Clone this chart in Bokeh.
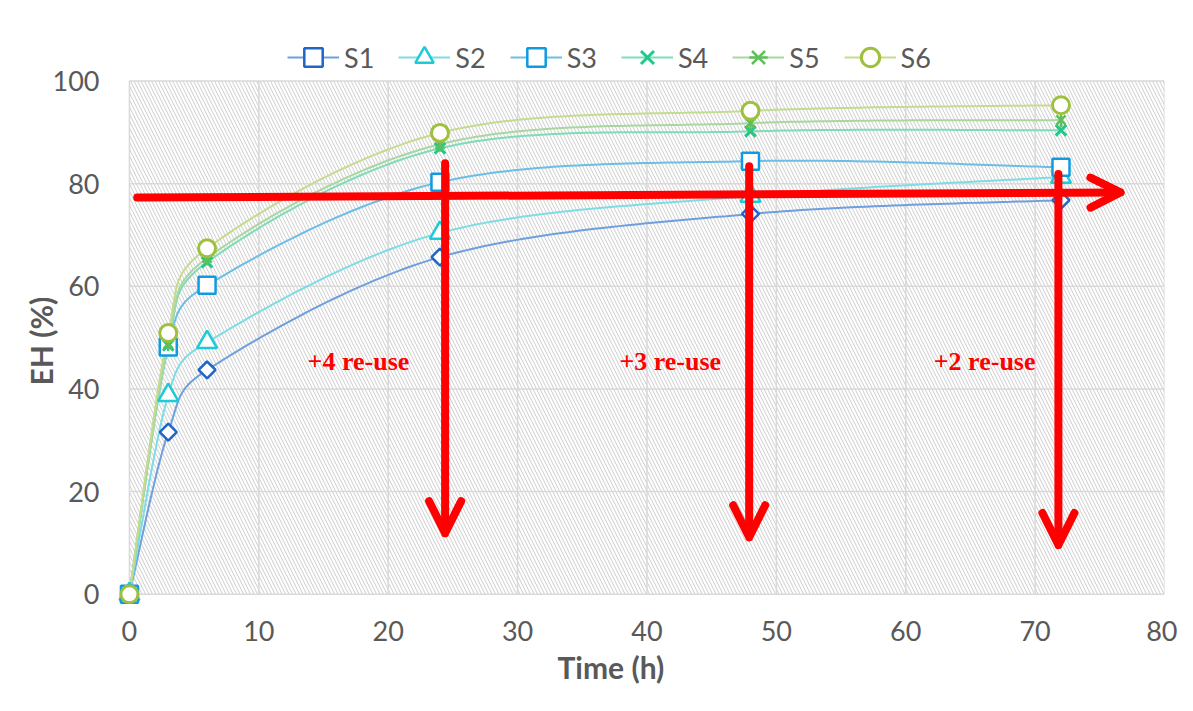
import numpy as np
from bokeh.plotting import figure
from bokeh.models import (Range1d, FixedTicker, Arrow, OpenHead, Legend, LegendItem, Title)
from bokeh.core.properties import value
from bokeh.embed import file_html
from bokeh.resources import INLINE

# ---------------- data ----------------
time_h = [0, 3, 6, 24, 48, 72]
s1 = [0, 31.6, 43.7, 65.7, 74.1, 76.8]
s2 = [0, 38.8, 49.1, 70.4, 77.6, 81.3]
s3 = [0, 48.2, 60.2, 80.3, 84.4, 83.2]
s4 = [0, 48.5, 64.7, 86.9, 90.2, 90.4]
s5 = [0, 48.8, 65.5, 87.7, 91.8, 92.4]
s6 = [0, 50.9, 67.4, 89.9, 94.2, 95.3]
series_names = ["S1", "S2", "S3", "S4", "S5", "S6"]
x_ticks = [0, 10, 20, 30, 40, 50, 60, 70, 80]
y_ticks = [0, 20, 40, 60, 80, 100]

# annotations (arrows and re-use labels)
h_arrow = [0.6, 77.3, 76.6, 78.3]          # x_start, y_start, x_end, y_end
v_arrow_x = [24.4, 47.9, 71.8]
v_arrow_top = [84.0, 83.4, 81.9]
v_arrow_tip = [11.9, 11.1, 9.6]
reuse_labels = ["+4 re-use", "+3 re-use", "+2 re-use"]
reuse_x = [17.7, 41.8, 66.1]
reuse_y = [45.4, 45.4, 45.4]

# ---------------- styling ----------------
marker_colors = ["#1f66c6", "#1ccad8", "#0f9be0", "#20c88a", "#5fbf5a", "#9fc03c"]
line_colors = ["#6f9fdc", "#7ddde6", "#6cbde8", "#7edcb8", "#a8d8a0", "#c5db8e"]
GRAY = "#595959"
FONT = "Lato"

W, H = 1177, 695
LEFT, RIGHT, TOP = 116, 13, 19
XR = (-1, 80)
YR = (-2.0, 112)            # headroom above 100 holds the legend
BOTTOM = 91
kx = (W - LEFT - RIGHT) / (XR[1] - XR[0])
ky = (H - TOP - BOTTOM) / (YR[1] - YR[0])


def excel_smooth(xs, ys, n=40):
    P = np.column_stack([np.asarray(xs, float) * kx, np.asarray(ys, float) * ky])
    N = len(P)
    out = [P[0]]
    t = np.linspace(0, 1, n)[1:]
    for i in range(N - 1):
        p0 = P[i - 1] if i > 0 else P[i]
        p1 = P[i]
        p2 = P[i + 1]
        p3 = P[i + 2] if i + 2 < N else P[i + 1]
        d12 = np.linalg.norm(p2 - p1)
        d02 = np.linalg.norm(p2 - p0)
        d13 = np.linalg.norm(p3 - p1)
        f1 = 1 / 6 if d02 / 6 < d12 / 2 else (d12 / (2 * d02) if d02 > 0 else 0)
        f2 = 1 / 6 if d13 / 6 < d12 / 2 else (d12 / (2 * d13) if d13 > 0 else 0)
        c1 = p1 + f1 * (p2 - p0)
        c2 = p2 - f2 * (p3 - p1)
        B = (((1 - t) ** 3)[:, None] * p1 + (3 * (1 - t) ** 2 * t)[:, None] * c1
             + (3 * (1 - t) * t ** 2)[:, None] * c2 + (t ** 3)[:, None] * p2)
        out.extend(B)
    arr = np.array(out)
    return arr[:, 0] / kx, arr[:, 1] / ky


p = figure(width=W, height=H, output_backend="svg", toolbar_location=None,
           x_range=Range1d(*XR), y_range=Range1d(*YR),
           min_border_left=LEFT, min_border_right=RIGHT,
           min_border_top=TOP, min_border_bottom=BOTTOM)
p.outline_line_color = None
p.grid.visible = False
p.background_fill_color = "white"
p.border_fill_color = "white"

for ax, ticks in ((p.xaxis[0], x_ticks), (p.yaxis[0], y_ticks)):
    ax.ticker = FixedTicker(ticks=ticks)
    ax.axis_line_color = None
    ax.major_tick_line_color = None
    ax.minor_tick_line_color = None
    ax.major_tick_out = 0
    ax.major_tick_in = 0
    ax.major_label_text_font = FONT
    ax.major_label_text_font_size = "27px"
    ax.major_label_text_color = GRAY
p.xaxis.major_label_standoff = 16
p.yaxis.major_label_standoff = 17

# axis titles
p.add_layout(Title(text="EH (%)", align="left", offset=219, standoff=-19,
                   text_font=FONT, text_font_style="bold", text_font_size="30px",
                   text_color=GRAY), "left")
p.add_layout(Title(text="Time (h)", align="left", offset=441, standoff=7,
                   text_font=FONT, text_font_style="bold", text_font_size="30px",
                   text_color=GRAY), "below")

# hatched plot area
p.quad(left=[x_ticks[0]], right=[x_ticks[-1]], bottom=[y_ticks[0]], top=[y_ticks[-1]],
       fill_color=None, line_color=None, hatch_pattern="\\", hatch_color="#cccccc",
       hatch_scale=7, hatch_weight=1)

# gridlines
p.segment(x0=x_ticks, x1=x_ticks, y0=[y_ticks[0]] * len(x_ticks), y1=[y_ticks[-1]] * len(x_ticks),
          line_color="#d9d9d9", line_width=1.5)
p.segment(x0=[x_ticks[0]] * len(y_ticks), x1=[x_ticks[-1]] * len(y_ticks), y0=y_ticks, y1=y_ticks,
          line_color="#d9d9d9", line_width=1.5)

series = [s1, s2, s3, s4, s5, s6]
line_rs = []
for vals, lc in zip(series, line_colors):
    sx, sy = excel_smooth(time_h, vals)
    line_rs.append(p.line(sx, sy, line_color=lc, line_width=2))

mk = []
mk.append([p.scatter(time_h, s1, marker="square", angle=np.pi / 4, size=12, line_color=marker_colors[0],
                     fill_color="white", line_width=2.5)])
mk.append([p.scatter(time_h, s2, marker="triangle", size=20, line_color=marker_colors[1],
                     fill_color="white", line_width=2.5)])
mk.append([p.scatter(time_h, s3, marker="square", size=17, line_color=marker_colors[2],
                     fill_color="white", line_width=2.5)])
mk.append([p.scatter(time_h, s4, marker="x", size=15, line_color=marker_colors[3], line_width=3)])
mk.append([p.scatter(time_h, s5, marker="x", size=13, line_color=marker_colors[4], line_width=2.5),
           p.scatter(time_h, s5, marker="dash", angle=np.pi / 2, size=15, line_color=marker_colors[4],
                     line_width=2.5)])
mk.append([p.scatter(time_h, s6, marker="circle", size=17, line_color=marker_colors[5],
                     fill_color="white", line_width=3)])

items = [LegendItem(label=name, renderers=[lr] + ms) for name, lr, ms in zip(series_names, line_rs, mk)]
legend = Legend(items=items, orientation="horizontal", location=(171, 524),
                glyph_width=52, glyph_height=46, label_height=46, label_width=30,
                label_standoff=5, spacing=24, padding=0, margin=0,
                border_line_color=None, background_fill_alpha=0,
                label_text_font=FONT, label_text_font_size="27px", label_text_color=GRAY)
p.add_layout(legend, "center")

# red arrows
p.add_layout(Arrow(x_start=h_arrow[0], y_start=h_arrow[1], x_end=h_arrow[2], y_end=h_arrow[3],
                   line_color="red", line_width=8, line_cap="round",
                   end=OpenHead(size=30, line_color="red", line_width=8, line_cap="round",
                                line_join="round")))
for xa, yt, yb in zip(v_arrow_x, v_arrow_top, v_arrow_tip):
    p.add_layout(Arrow(x_start=xa, y_start=yt, x_end=xa, y_end=yb,
                       line_color="red", line_width=8, line_cap="round",
                       end=OpenHead(size=32, line_color="red", line_width=8, line_cap="round",
                                    line_join="round")))

p.text(x=reuse_x, y=reuse_y, text=reuse_labels, text_font=value("Liberation Serif"),
       text_font_style="bold", text_font_size="26px", text_color="red",
       text_align="center", text_baseline="middle")

open("out.html", "w").write(file_html(p, INLINE))
